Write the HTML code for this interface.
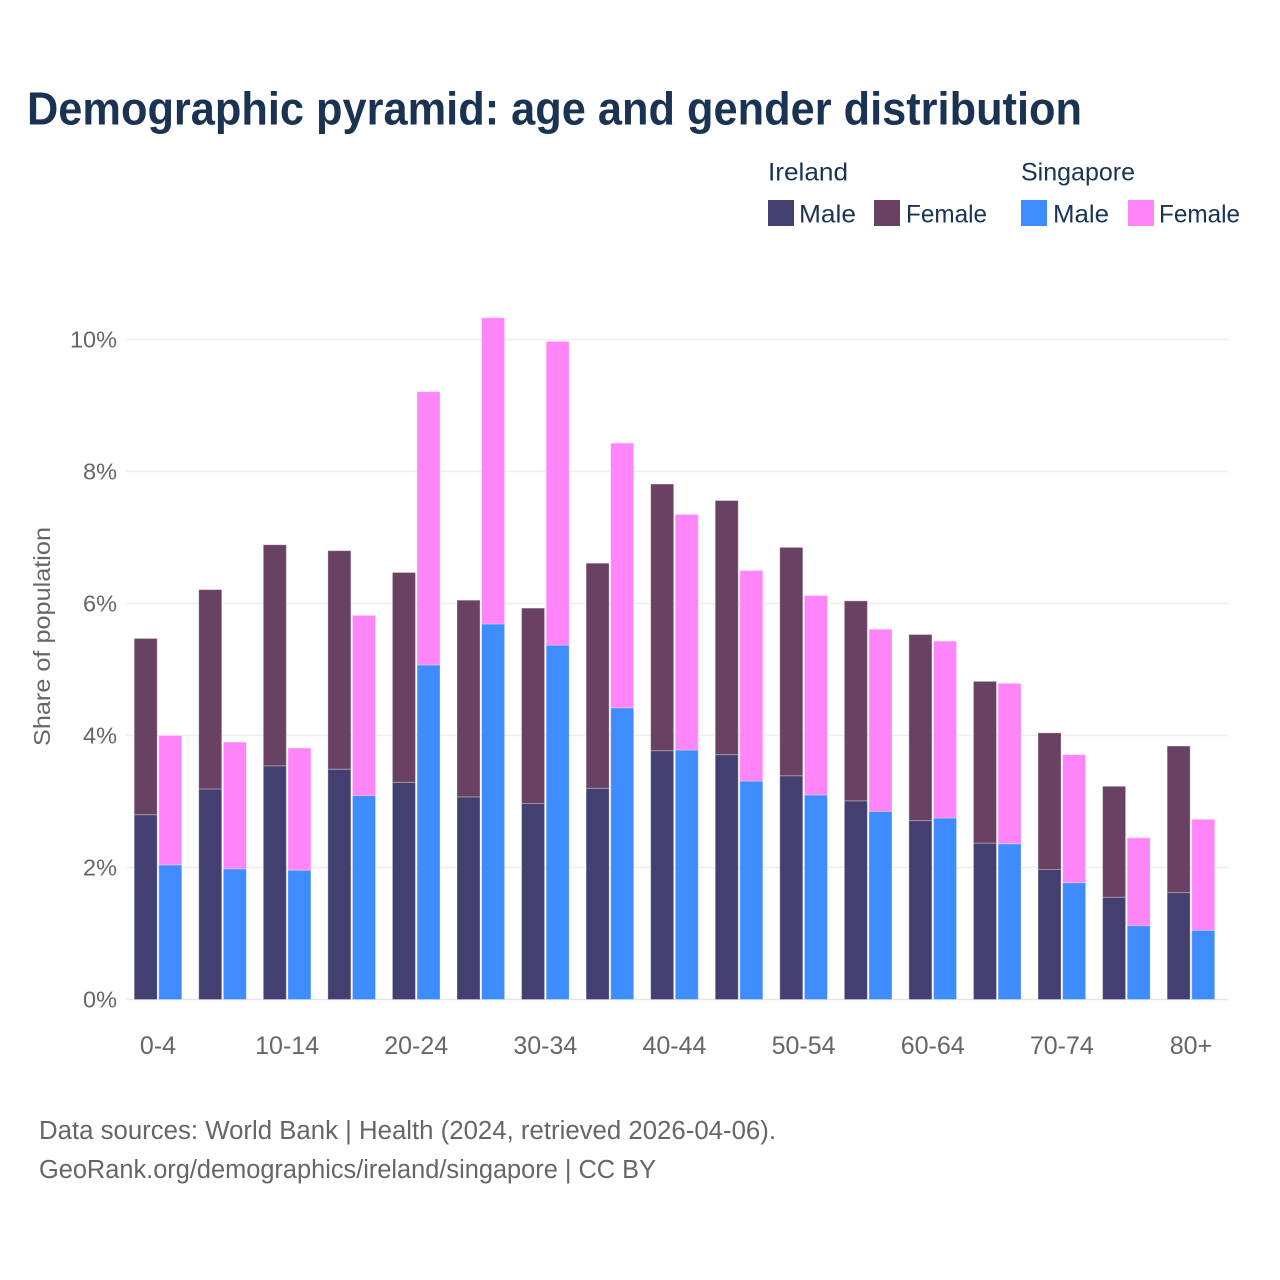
<!DOCTYPE html>
<html lang="en">
<head>
<meta charset="utf-8">
<title>Demographic pyramid: age and gender distribution</title>
<style>
  html, body { margin: 0; padding: 0; background: #fff; }
  svg { display: block; font-family: "Liberation Sans", sans-serif; }
  .legend { font-size: 25px; fill: #1a3353; }
  .tick { font-size: 23.5px; fill: #666; }
  .xtick { font-size: 25px; fill: #666; }
  .foot { font-size: 25.5px; fill: #666; }
</style>
</head>
<body>
<svg id="chart" xmlns="http://www.w3.org/2000/svg" width="1280" height="1280" viewBox="0 0 1280 1280">
  <rect width="1280" height="1280" fill="#fff"/>
  <text x="27" y="124.5" font-size="46" font-weight="700" fill="#1a3353" textLength="1055" lengthAdjust="spacingAndGlyphs">Demographic pyramid: age and gender distribution</text>

  <g>
    <text class="legend" x="768" y="180.5" textLength="80" lengthAdjust="spacingAndGlyphs">Ireland</text>
    <text class="legend" x="1021" y="180.5" textLength="114" lengthAdjust="spacingAndGlyphs">Singapore</text>
    <rect x="768" y="200" width="26" height="26" fill="#433f70"/>
    <text class="legend" x="799" y="222.5" textLength="57" lengthAdjust="spacingAndGlyphs">Male</text>
    <rect x="874" y="200" width="26" height="26" fill="#684163"/>
    <text class="legend" x="906" y="222.5" textLength="81" lengthAdjust="spacingAndGlyphs">Female</text>
    <rect x="1021" y="200" width="26" height="26" fill="#3f8cff"/>
    <text class="legend" x="1053" y="222.5" textLength="56" lengthAdjust="spacingAndGlyphs">Male</text>
    <rect x="1128" y="200" width="26" height="26" fill="#ff85f8"/>
    <text class="legend" x="1159" y="222.5" textLength="81" lengthAdjust="spacingAndGlyphs">Female</text>
  </g>

  <g id="grid"></g>
  <g id="yticks"></g>
  <g id="bars"></g>
  <g id="xticks"></g>

  <text class="tick" transform="translate(50,746) rotate(-90)" x="0" y="0" textLength="219" lengthAdjust="spacingAndGlyphs">Share of population</text>

  <text class="foot" x="39" y="1139" textLength="737" lengthAdjust="spacingAndGlyphs">Data sources: World Bank | Health (2024, retrieved 2026-04-06).</text>
  <text class="foot" x="39" y="1178" textLength="617" lengthAdjust="spacingAndGlyphs">GeoRank.org/demographics/ireland/singapore | CC BY</text>
</svg>
<script>
const categories = ["0-4","5-9","10-14","15-19","20-24","25-29","30-34","35-39","40-44","45-49","50-54","55-59","60-64","65-69","70-74","75-79","80+"];
const irelandMale = [2.80,3.19,3.54,3.49,3.29,3.07,2.97,3.20,3.77,3.71,3.39,3.01,2.71,2.37,1.97,1.55,1.62];
const irelandFemale = [2.67,3.02,3.35,3.31,3.18,2.98,2.96,3.41,4.04,3.85,3.46,3.03,2.82,2.45,2.07,1.68,2.22];
const singaporeMale = [2.04,1.98,1.96,3.09,5.07,5.69,5.37,4.42,3.78,3.31,3.10,2.85,2.75,2.36,1.77,1.12,1.05];
const singaporeFemale = [1.96,1.92,1.85,2.73,4.14,4.64,4.60,4.01,3.57,3.19,3.02,2.76,2.68,2.43,1.94,1.33,1.68];
const yTicks = [0,2,4,6,8,10];

const NS = "http://www.w3.org/2000/svg";
function yScale(v) { return 999.5 - 66 * v; }
function xCenter(i) { return 158 + 64.56 * i; }
const BAR_W = 23;
const BAR_GAP = 1.6;

function mk(tag, attrs, parent) {
  const el = document.createElementNS(NS, tag);
  for (const k in attrs) el.setAttribute(k, attrs[k]);
  parent.appendChild(el);
  return el;
}

const grid = document.getElementById("grid");
const yG = document.getElementById("yticks");
yTicks.forEach(function (t) {
  const line = mk("line", {x1: 126, x2: 1228, y1: yScale(t), y2: yScale(t), stroke: t === 0 ? "#e6e6e6" : "#eeeeee", "stroke-width": 1.5}, grid);
  
  
  const lab = mk("text", {x: 117, y: yScale(t) + 8, "text-anchor": "end", class: "tick"}, yG);
  
  
  lab.textContent = t + "%";
});

const barsG = document.getElementById("bars");
function bar(x, v0, v1, fill, name) {
  const top = yScale(v0 + v1), bottom = yScale(v0);
  const r = mk("rect", {x: x, y: top, width: BAR_W, height: bottom - top, fill: fill, stroke: "#ffffff", "stroke-opacity": 0.3, "stroke-width": 1}, barsG);
  
  
}
categories.forEach(function (c, i) {
  const xc = xCenter(i);
  const xL = xc - BAR_GAP / 2 - BAR_W;
  const xR = xc + BAR_GAP / 2;
  bar(xL, 0, irelandMale[i], "#433f70", "bar-ireland-male");
  bar(xL, irelandMale[i], irelandFemale[i], "#684163", "bar-ireland-female");
  bar(xR, 0, singaporeMale[i], "#3f8cff", "bar-singapore-male");
  bar(xR, singaporeMale[i], singaporeFemale[i], "#ff85f8", "bar-singapore-female");
});

const xG = document.getElementById("xticks");
categories.forEach(function (c, i) {
  if (i % 2 !== 0) return;
  const t = mk("text", {x: xCenter(i), y: 1054, "text-anchor": "middle", class: "xtick"}, xG);
  
  
  t.textContent = c;
});
</script>
</body>
</html>
